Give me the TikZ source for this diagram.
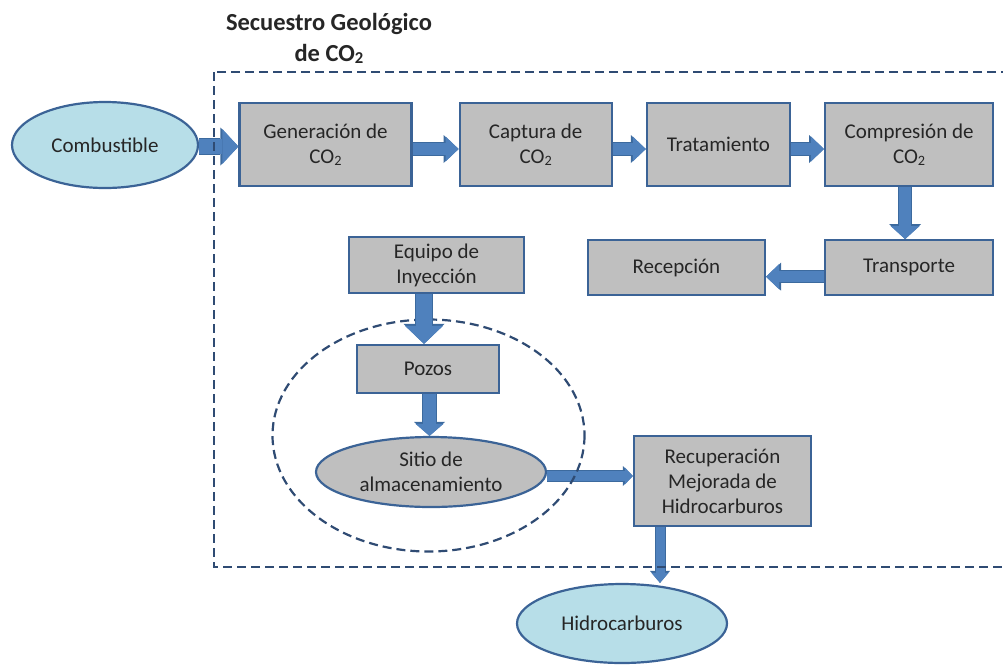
\documentclass[tikz,border=0pt]{standalone}
\usepackage{fontspec}
\setmainfont{Carlito}
\usepackage{graphicx}
\usepackage{tikz}
\usetikzlibrary{arrows.meta,positioning,shapes.geometric}
\definecolor{boxgray}{HTML}{BFBFBF}
\definecolor{edgeblue}{HTML}{3B6396}
\definecolor{skyfill}{HTML}{B7DEE8}
\definecolor{arrowblue}{HTML}{4F81BD}
\definecolor{arrowedge}{HTML}{3C6A9E}
\definecolor{dashnavy}{HTML}{2F4B73}
\definecolor{ink}{HTML}{262626}
\newcommand{\cotwo}{CO\raisebox{-0.08em}{\scalebox{0.68}{2}}}

\begin{document}
\begin{tikzpicture}[x=1pt,y=-1pt,every node/.style={font=\fontsize{21}{25}\selectfont,align=center,text=ink},bloque/.style n args={2}{draw=edgeblue,fill=boxgray,line width=2.2pt,minimum width=#1,minimum height=#2,inner sep=0pt},ovalo/.style n args={3}{ellipse,draw=edgeblue,fill=#3,line width=2.2pt,minimum width=#1,minimum height=#2,inner sep=0pt},flecha/.style n args={3}{draw=arrowblue,line width=#1,-{Triangle[length=#3,width=#2,line width=0pt]},preaction={draw=arrowedge,line width=#1+2pt,-{Triangle[length=#3+2pt,width=#2+3pt,line width=0pt]}}},limite/.style={draw=dashnavy,line width=2.2pt,dash pattern=on 9pt off 5pt}]
\useasboundingbox (0,0) rectangle (1003,665);
\node[font=\fontsize{24.5}{31}\selectfont\bfseries] (titulo) at (329,38) {Secuestro Geológico\\de \cotwo};
\node[ovalo={186pt}{86pt}{skyfill}] (comb) at (105,145) {Combustible};
\node[bloque={172pt}{83pt}] (gen) at (325.5,144.5) {Generación de\\\cotwo};
\node[bloque={152pt}{83pt},right=46pt of gen] (captura) {Captura de\\\cotwo};
\node[bloque={143pt}{83pt},right=33pt of captura] (trat) {Tratamiento};
\node[bloque={168pt}{83pt},right=33pt of trat] (comp) {Compresión de\\\cotwo};
\node[bloque={168pt}{55pt},below=52pt of comp] (transp) {Transporte};
\node[bloque={177pt}{55pt},left=58pt of transp] (recep) {Recepción};
\node[bloque={175pt}{56pt}] (equipo) at (436.5,265) {Equipo de\\Inyección};
\node[bloque={142pt}{48pt}] (pozos) at (428,369) {Pozos};
\node[ovalo={230pt}{70pt}{boxgray}] (sitio) at (431,472) {Sitio de\\almacenamiento};
\node[bloque={177pt}{90pt}] (recup) at (722.5,481) {Recuperación\\Mejorada de\\Hidrocarburos};
\node[ovalo={210pt}{79pt}{skyfill}] (hidro) at (622,623.5) {Hidrocarburos};
% flechas de bloque
\draw[flecha={15pt}{35pt}{16pt}] ([yshift=-1.5pt]comb.east) -- ([yshift=-1.5pt]comb.east -| gen.west);
\draw[flecha={12pt}{25pt}{13pt}] ([yshift=-4.5pt]gen.east) -- ([yshift=-4.5pt]gen.east -| captura.west);
\draw[flecha={12pt}{25pt}{13pt}] ([yshift=-4.5pt]captura.east) -- ([yshift=-4.5pt]captura.east -| trat.west);
\draw[flecha={12pt}{25pt}{13pt}] ([yshift=-4.5pt]trat.east) -- ([yshift=-4.5pt]trat.east -| comp.west);
\draw[flecha={12pt}{29pt}{13pt}] ([xshift=-4pt]comp.south) -- ([xshift=-4pt]comp.south |- transp.north);
\draw[flecha={11pt}{25pt}{13pt}] ([yshift=-9pt]transp.west) -- ([yshift=-9pt]transp.west -| recep.east);
\draw[flecha={13pt}{28pt}{12pt}] ([xshift=1.5pt]pozos.south) -- ([xshift=1.5pt]pozos.south |- sitio.north);
\draw[flecha={10pt}{17pt}{8pt}] ([yshift=-4pt]sitio.east) -- ([yshift=-4pt]sitio.east -| recup.west);
\draw[flecha={9pt}{17pt}{10pt}] ([xshift=-62.5pt]recup.south) -- ([xshift=-62.5pt]recup.south |- hidro.north);
% zonas punteadas
\draw[limite] (214,72) rectangle (1020,567);
\draw[limite] (428.5,435.5) ellipse [x radius=156, y radius=116];
\draw[flecha={16pt}{38pt}{18pt}] ([xshift=-12.5pt]equipo.south) -- ([xshift=-12.5pt]equipo.south |- pozos.north);
\end{tikzpicture}
\end{document}
